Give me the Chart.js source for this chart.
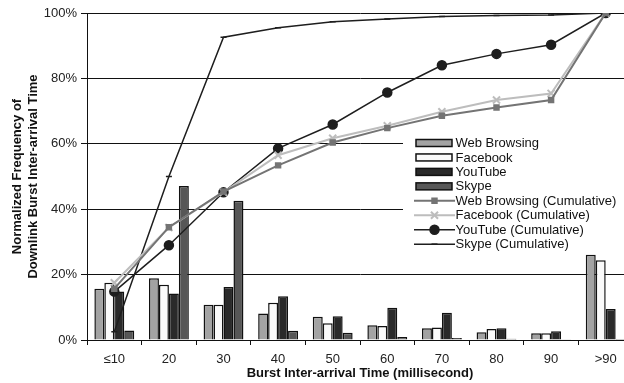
<!DOCTYPE html>
<html>
<head>
<meta charset="utf-8">
<script src="https://cdn.jsdelivr.net/npm/chart.js@4"></script>
<style>
  body { margin: 0; overflow: hidden; background: #fff; }
  #wrap { width: 640px; height: 383px; }
</style>
</head>
<body>
<div id="wrap"><canvas id="chart" width="640" height="383"></canvas></div>
<script>
// DATA
const categories = ["≤10", "20", "30", "40", "50", "60", "70", "80", "90", ">90"];
const yTicks = [0, 20, 40, 60, 80, 100];

const webBrowsing = [15.7, 18.9, 10.8, 8.1, 7.1, 4.5, 3.6, 2.4, 2.1, 26.1];
const facebook    = [17.5, 16.9, 10.8, 11.4, 5.1, 4.3, 3.8, 3.4, 2.1, 24.4];
const youtube     = [14.8, 14.2, 16.2, 13.4, 7.3, 9.9, 8.3, 3.6, 2.7, 9.5];
const skype       = [2.9, 47.1, 42.6, 2.8, 2.2, 0.9, 0.6, 0.4, 0.2, 0.3];

const webCum   = [15.7, 34.5, 45.4, 53.4, 60.4, 64.8, 68.6, 71.1, 73.4, 100];
const fbCum    = [17.5, 34.4, 45.2, 56.5, 61.7, 65.5, 69.8, 73.4, 75.4, 100];
const ytCum    = [14.8, 29.0, 45.2, 58.6, 65.9, 75.7, 84.0, 87.5, 90.3, 100];
const skypeCum = [2.5, 50.0, 92.6, 95.5, 97.3, 98.2, 98.9, 99.2, 99.4, 100];

const FONT = "'Liberation Sans', Arial, sans-serif";

function bar(label, data, color) {
    return {
        type: "bar", label: label, data: data, order: 2,
        backgroundColor: color, borderColor: "#111", borderWidth: 1.5,
        barPercentage: 1.0, categoryPercentage: 0.73
    };
}
function line(label, data, color, style, radius, width) {
    return {
        type: "line", label: label, data: data, order: 1,
        borderColor: color, backgroundColor: color, borderWidth: width,
        pointStyle: style, pointRadius: radius, pointBorderWidth: style === "crossRot" ? 2 : 1.5,
        pointBackgroundColor: color, pointBorderColor: color, tension: 0
    };
}

// LEGEND (custom box inside the plot)
const legendBox = {
    id: "legendBox",
    afterDraw(chart) {
        const ctx = chart.ctx;
        ctx.save();
        ctx.fillStyle = "#fff";
        ctx.fillRect(403, 131, 240, 120);
        ctx.font = "13px " + FONT;
        ctx.textBaseline = "middle";
        chart.data.datasets.forEach((ds, i) => {
            const y = 143 + i * 14.45;
            if (ds.type === "bar") {
                ctx.fillStyle = ds.backgroundColor;
                ctx.strokeStyle = "#111";
                ctx.lineWidth = 1.5;
                ctx.fillRect(416, y - 3.5, 36, 7);
                ctx.strokeRect(416, y - 3.5, 36, 7);
            } else {
                ctx.strokeStyle = ds.borderColor;
                ctx.fillStyle = ds.backgroundColor;
                ctx.lineWidth = ds.borderWidth;
                ctx.beginPath();
                ctx.moveTo(414, y);
                ctx.lineTo(455, y);
                ctx.stroke();
                ctx.lineWidth = ds.pointBorderWidth;
                Chart.helpers.drawPoint(ctx, {
                    pointStyle: ds.pointStyle, radius: ds.pointRadius,
                    borderWidth: ds.pointBorderWidth, rotation: 0
                }, 434.5, y);
            }
            ctx.fillStyle = "#111";
            ctx.fillText(ds.label, 455.5, y + 0.5);
        });
        ctx.restore();
    }
};

new Chart(document.getElementById("chart"), {
    data: {
        labels: categories,
        datasets: [
            bar("Web Browsing", webBrowsing, "#a3a3a3"),
            bar("Facebook", facebook, "#fafafa"),
            bar("YouTube", youtube, "#2a2a2a"),
            bar("Skype", skype, "#575757"),
            line("Web Browsing (Cumulative)", webCum, "#747474", "rect", 3.5, 2),
            line("Facebook (Cumulative)", fbCum, "#bdbdbd", "crossRot", 5, 2),
            line("YouTube (Cumulative)", ytCum, "#1e1e1e", "circle", 4.5, 1.5),
            line("Skype (Cumulative)", skypeCum, "#1e1e1e", "line", 3, 1.5)
        ]
    },
    options: {
        responsive: false,
        animation: false,
        layout: { padding: { top: 13, right: 4, left: 0, bottom: 0 } },
        plugins: { legend: { display: false }, tooltip: { enabled: false } },
        scales: {
            x: {
                afterFit(scale) { scale.height = 43; },
                grid: { offset: true, drawOnChartArea: false, color: "#111", tickLength: 5 },
                border: { color: "#111", width: 1 },
                ticks: { color: "#222", font: { family: FONT, size: 13 }, padding: 7, maxRotation: 0 },
                title: {
                    display: true, text: "Burst Inter-arrival Time (millisecond)", color: "#111",
                    font: { family: FONT, size: 13, weight: "bold" }, padding: { top: 0, bottom: 2 }
                }
            },
            y: {
                min: 0, max: 100,
                afterFit(scale) { scale.width = 87; },
                afterBuildTicks(scale) { scale.ticks = yTicks.map(v => ({ value: v })); },
                grid: { color: "#111", lineWidth: 1, tickLength: 6 },
                border: { color: "#111", width: 1 },
                ticks: {
                    color: "#222", font: { family: FONT, size: 13 }, padding: 4,
                    callback: v => v + "%"
                },
                title: {
                    display: true, text: ["Normalized Frequency of", "Downlink Burst Inter-arrival Time"],
                    color: "#111", font: { family: FONT, size: 13, weight: "bold", lineHeight: 1.2 },
                    padding: { top: 10, bottom: 0 }
                }
            }
        }
    },
    plugins: [legendBox]
});
</script>
</body>
</html>
